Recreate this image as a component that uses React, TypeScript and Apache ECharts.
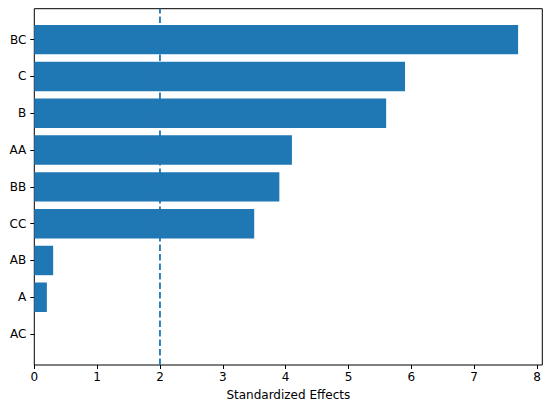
import React, { useEffect, useRef } from "react";
import * as echarts from "echarts";

const categories = ["AC", "A", "AB", "CC", "BB", "AA", "B", "C", "BC"];
const effects = [0.0, 0.2, 0.3, 3.5, 3.9, 4.1, 5.6, 5.9, 7.7];
const xTicks = [0, 1, 2, 3, 4, 5, 6, 7, 8];
const threshold = 2;
const xMax = 7.7 * 1.05;
const xTitle = "Standardized Effects";

const FONT = "DejaVu Sans";
const BLUE = "#1f77b4";

export default function App() {
  const ref = useRef<HTMLDivElement>(null);
  useEffect(() => {
    if (!ref.current) return;
    const chart = echarts.init(ref.current, undefined, { renderer: "svg" });
    const left = 34.3;
    const right = 550 - 542.3;
    const top = 8.7;
    const bottom = 406 - 365;
    const unit = (365 - 8.7) / 9.68;
    const g0top = top + (0.84 - 0.5) * unit;
    const g0bottom = bottom + (0.84 - 0.5) * unit;
    chart.setOption({
      animation: false,
      backgroundColor: "#fff",
      grid: [
        { left, right, top: g0top, bottom: g0bottom, containLabel: false },
        {
          left,
          right,
          top,
          bottom,
          containLabel: false,
          show: true,
          borderColor: "#000",
          borderWidth: 1,
          backgroundColor: "transparent",
        },
      ],
      xAxis: [
        { type: "value", gridIndex: 0, min: 0, max: xMax, show: false },
        {
          type: "value",
          gridIndex: 1,
          min: 0,
          max: xMax,
          interval: 1,
          axisLine: { show: false },
          splitLine: { show: false },
          axisTick: {
            show: true,
            length: 4,
            customValues: xTicks,
            lineStyle: { color: "#000", width: 1 },
          },
          axisLabel: {
            customValues: xTicks,
            color: "#000",
            fontSize: 12,
            fontFamily: FONT,
            margin: 6,
          },
          name: xTitle,
          nameLocation: "middle",
          nameGap: 24,
          nameTextStyle: { color: "#000", fontSize: 12, fontFamily: FONT },
        },
      ],
      yAxis: [
        {
          type: "category",
          gridIndex: 0,
          data: categories,
          axisLine: { show: false },
          axisTick: {
            show: true,
            length: 4,
            alignWithLabel: true,
            lineStyle: { color: "#000", width: 1 },
          },
          axisLabel: {
            color: "#000",
            fontSize: 12,
            fontFamily: FONT,
            margin: 8,
          },
          splitLine: { show: false },
        },
        { type: "value", gridIndex: 1, min: 0, max: 1, show: false },
      ],
      series: [
        {
          type: "bar",
          xAxisIndex: 0,
          yAxisIndex: 0,
          data: effects,
          barWidth: "80%",
          itemStyle: { color: BLUE },
        },
        {
          type: "line",
          xAxisIndex: 1,
          yAxisIndex: 1,
          data: [
            [threshold, 0],
            [threshold, 1],
          ],
          symbol: "none",
          lineStyle: { color: BLUE, width: 1.8, type: [6.6, 2.9] },
          z: 5,
        },
      ],
    });
    return () => chart.dispose();
  }, []);
  return (
    <div
      ref={ref}
      style={{ width: 550, height: 406, position: "fixed", left: 0, top: 0 }}
    />
  );
}
